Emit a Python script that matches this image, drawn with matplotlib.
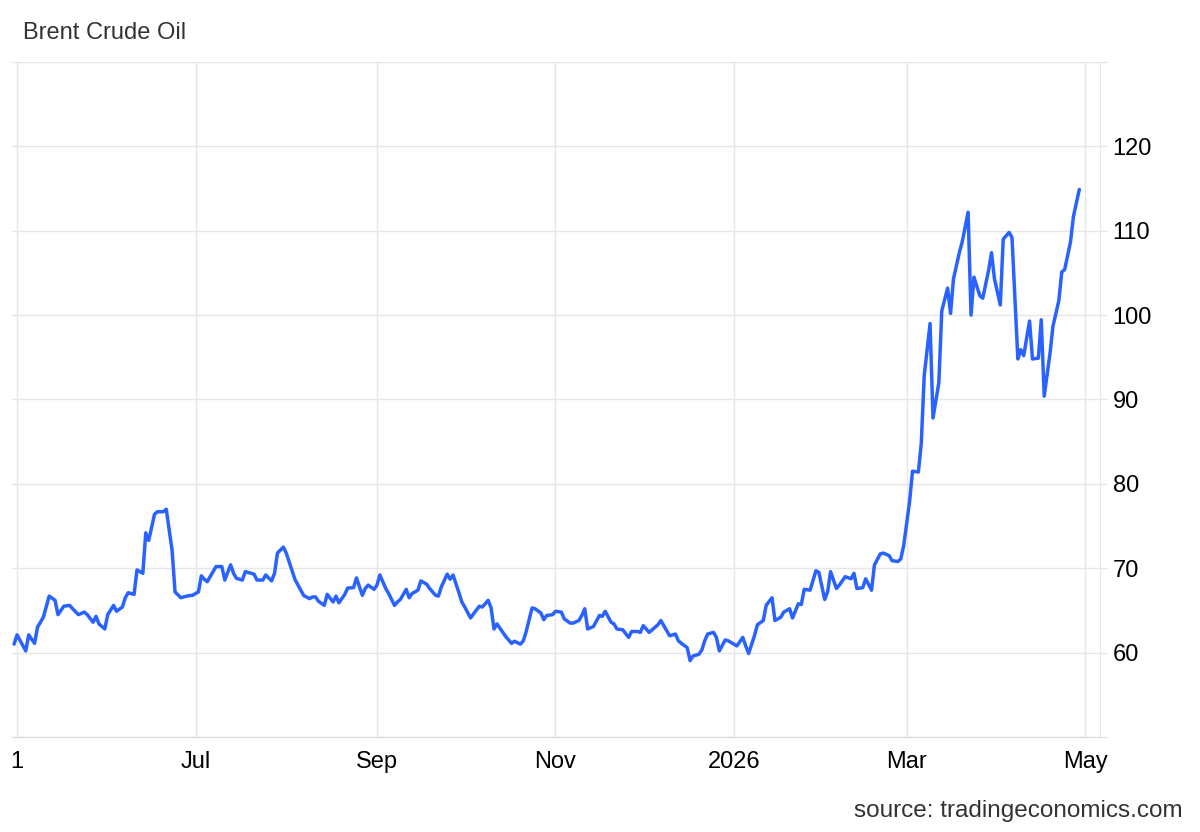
import pandas as pd
import matplotlib
matplotlib.use("Agg")
import matplotlib.pyplot as plt

title = "Brent Crude Oil"
source = "source: tradingeconomics.com"

# daily closes, one line per month
dates = [
    "2025-04-30", "2025-05-01", "2025-05-04", "2025-05-05", "2025-05-07", "2025-05-08", "2025-05-10", "2025-05-12", "2025-05-14", "2025-05-15",
    "2025-05-17", "2025-05-19", "2025-05-20", "2025-05-22", "2025-05-24", "2025-05-25", "2025-05-27", "2025-05-28", "2025-05-29", "2025-05-31",
    "2025-06-01", "2025-06-03", "2025-06-04", "2025-06-06", "2025-06-07", "2025-06-08", "2025-06-10", "2025-06-11", "2025-06-13", "2025-06-14",
    "2025-06-15", "2025-06-17", "2025-06-18", "2025-06-20", "2025-06-21", "2025-06-23", "2025-06-24", "2025-06-26", "2025-06-28", "2025-06-29", "2025-06-30",
    "2025-07-02", "2025-07-03", "2025-07-04", "2025-07-05", "2025-07-07", "2025-07-08", "2025-07-10", "2025-07-11", "2025-07-13", "2025-07-14", "2025-07-15",
    "2025-07-17", "2025-07-18", "2025-07-20", "2025-07-21", "2025-07-22", "2025-07-24", "2025-07-25", "2025-07-27", "2025-07-28", "2025-07-29", "2025-07-31",
    "2025-08-01", "2025-08-03", "2025-08-04", "2025-08-06", "2025-08-07", "2025-08-09", "2025-08-10", "2025-08-11", "2025-08-12", "2025-08-14", "2025-08-15",
    "2025-08-17", "2025-08-18", "2025-08-19", "2025-08-21", "2025-08-22", "2025-08-24", "2025-08-25", "2025-08-27", "2025-08-28", "2025-08-29", "2025-08-31",
    "2025-09-01", "2025-09-02", "2025-09-04", "2025-09-05", "2025-09-07", "2025-09-08", "2025-09-09", "2025-09-11", "2025-09-12", "2025-09-13", "2025-09-15",
    "2025-09-16", "2025-09-18", "2025-09-19", "2025-09-21", "2025-09-22", "2025-09-23", "2025-09-25", "2025-09-26", "2025-09-27", "2025-09-29", "2025-09-30",
    "2025-10-01", "2025-10-03", "2025-10-04", "2025-10-06", "2025-10-07", "2025-10-09", "2025-10-10", "2025-10-11", "2025-10-12", "2025-10-14", "2025-10-15",
    "2025-10-17", "2025-10-18", "2025-10-20", "2025-10-21", "2025-10-22", "2025-10-24", "2025-10-25", "2025-10-27", "2025-10-28", "2025-10-29", "2025-10-31",
    "2025-11-01", "2025-11-03", "2025-11-04", "2025-11-06", "2025-11-07", "2025-11-09", "2025-11-10", "2025-11-11", "2025-11-12", "2025-11-14", "2025-11-16",
    "2025-11-17", "2025-11-18", "2025-11-20", "2025-11-21", "2025-11-22", "2025-11-24", "2025-11-26", "2025-11-27", "2025-11-29", "2025-11-30",
    "2025-12-01", "2025-12-03", "2025-12-04", "2025-12-06", "2025-12-07", "2025-12-09", "2025-12-10", "2025-12-12", "2025-12-13", "2025-12-14", "2025-12-16",
    "2025-12-17", "2025-12-18", "2025-12-20", "2025-12-21", "2025-12-22", "2025-12-23", "2025-12-25", "2025-12-26", "2025-12-27", "2025-12-29", "2025-12-30",
    "2026-01-01", "2026-01-02", "2026-01-04", "2026-01-05", "2026-01-06", "2026-01-08", "2026-01-09", "2026-01-11", "2026-01-12", "2026-01-14", "2026-01-15",
    "2026-01-17", "2026-01-18", "2026-01-20", "2026-01-21", "2026-01-23", "2026-01-24", "2026-01-25", "2026-01-27", "2026-01-29", "2026-01-30",
    "2026-02-01", "2026-02-02", "2026-02-03", "2026-02-05", "2026-02-06", "2026-02-08", "2026-02-10", "2026-02-11", "2026-02-12", "2026-02-14",
    "2026-02-15", "2026-02-17", "2026-02-18", "2026-02-20", "2026-02-21", "2026-02-23", "2026-02-24", "2026-02-26", "2026-02-27", "2026-02-28",
    "2026-03-02", "2026-03-03", "2026-03-05", "2026-03-06", "2026-03-07", "2026-03-09", "2026-03-10", "2026-03-12", "2026-03-13", "2026-03-15", "2026-03-16",
    "2026-03-17", "2026-03-19", "2026-03-20", "2026-03-22", "2026-03-23", "2026-03-24", "2026-03-26", "2026-03-27", "2026-03-29", "2026-03-30", "2026-03-31",
    "2026-04-02", "2026-04-03", "2026-04-05", "2026-04-06", "2026-04-08", "2026-04-09", "2026-04-10", "2026-04-12", "2026-04-13", "2026-04-15",
    "2026-04-16", "2026-04-17", "2026-04-19", "2026-04-20", "2026-04-22", "2026-04-23", "2026-04-24", "2026-04-26", "2026-04-27", "2026-04-29",
]
prices = [
    61.0, 62.1, 60.2, 62.1, 61.1, 63.0, 64.2, 66.7, 66.2, 64.5,
    65.5, 65.6, 65.2, 64.5, 64.8, 64.5, 63.6, 64.3, 63.4, 62.8,
    64.5, 65.6, 64.9, 65.4, 66.5, 67.1, 66.9, 69.8, 69.4, 74.2,
    73.3, 76.4, 76.7, 76.7, 77.0, 72.1, 67.2, 66.5, 66.7, 66.75, 66.8,
    67.2, 69.1, 68.7, 68.4, 69.6, 70.2, 70.2, 68.6, 70.4, 69.4, 68.8,
    68.6, 69.6, 69.4, 69.3, 68.6, 68.6, 69.2, 68.5, 69.4, 71.8, 72.5,
    71.8, 69.7, 68.65, 67.4, 66.75, 66.4, 66.6, 66.6, 66.1, 65.6, 66.9,
    66.0, 66.7, 65.9, 66.9, 67.65, 67.7, 68.85, 66.8, 67.6, 68.0, 67.5,
    68.0, 69.2, 67.6, 67.0, 65.6, 66.0, 66.3, 67.5, 66.5, 67.0, 67.4,
    68.5, 68.1, 67.6, 66.8, 66.7, 67.8, 69.3, 68.7, 69.2, 67.1, 66.0,
    65.4, 64.1, 64.6, 65.5, 65.4, 66.2, 65.3, 62.8, 63.4, 62.4, 61.9,
    61.1, 61.35, 61.0, 61.4, 62.5, 65.3, 65.2, 64.7, 63.9, 64.4, 64.5,
    64.9, 64.8, 64.0, 63.5, 63.5, 63.8, 64.4, 65.2, 62.8, 63.1, 64.4,
    64.3, 64.9, 63.6, 63.4, 62.8, 62.7, 61.8, 62.5, 62.5, 62.4,
    63.2, 62.4, 62.7, 63.3, 63.8, 62.6, 62.0, 62.2, 61.4, 61.1, 60.6,
    59.05, 59.6, 59.8, 60.3, 61.4, 62.2, 62.4, 61.8, 60.2, 61.5, 61.4,
    61.0, 60.8, 61.8, 60.8, 59.9, 62.0, 63.3, 63.8, 65.6, 66.5, 63.8,
    64.2, 64.8, 65.2, 64.1, 65.8, 65.7, 67.5, 67.4, 69.7, 69.5,
    66.3, 67.2, 69.6, 67.6, 68.0, 69.0, 68.75, 69.4, 67.6, 67.7,
    68.75, 67.4, 70.4, 71.7, 71.8, 71.5, 70.9, 70.8, 71.1, 72.7,
    77.9, 81.5, 81.4, 84.8, 92.8, 99.0, 87.8, 92.0, 100.5, 103.2, 100.2,
    104.3, 107.4, 108.7, 112.2, 100.0, 104.5, 102.3, 102.0, 105.3, 107.4, 104.3,
    101.2, 109.0, 109.8, 109.2, 94.8, 95.9, 95.2, 99.3, 94.8, 94.9,
    99.45, 90.4, 95.5, 98.7, 101.7, 105.1, 105.4, 108.7, 111.7, 114.9,
]
assert len(dates) == len(prices)

tick_dates = ["2025-05-01", "2025-07-01", "2025-09-01", "2025-11-01",
              "2026-01-01", "2026-03-01", "2026-05-01"]
tick_labels = ["1", "Jul", "Sep", "Nov", "2026", "Mar", "May"]
y_ticks = [50, 60, 70, 80, 90, 100, 110, 120, 130]
y_labels = ["", "60", "70", "80", "90", "100", "110", "120", ""]

plt.rcParams["font.family"] = ["Liberation Sans", "DejaVu Sans"]

grid_col = "#e6e6e6"
fig = plt.figure(figsize=(12, 8.32), dpi=100)
ax = fig.add_axes([0.01, 0.1142, 0.9067, 0.8113])

ax.plot(pd.to_datetime(dates), prices, color="#2962ff", lw=2.5,
        solid_joinstyle="round", solid_capstyle="round", zorder=3)

ax.set_ylim(50, 130)
ax.set_xlim(pd.Timestamp("2025-04-29 07:00"), pd.Timestamp("2026-05-06 02:00"))

ax.set_xticks(pd.to_datetime(tick_dates))
ax.set_xticklabels(tick_labels)
ax.set_yticks(y_ticks)
ax.set_yticklabels(y_labels)
ax.yaxis.tick_right()

ax.grid(True, color=grid_col, lw=1)
ax.tick_params(axis="x", length=0, labelsize=17, pad=10, labelcolor="black")
ax.tick_params(axis="y", length=5, width=1, color=grid_col, labelsize=17,
               pad=4, labelcolor="black")

ax.spines["top"].set_visible(False)
ax.spines["left"].set_visible(False)
ax.spines["bottom"].set_color("#d9d9d9")
ax.spines["right"].set_color(grid_col)

fig.text(23 / 1200, 1 - 39 / 832, title, fontsize=17, color="#333333",
         va="baseline", ha="left")
fig.text(1183 / 1200, 1 - 817 / 832, source, fontsize=17.5, color="#333333",
         va="baseline", ha="right")

fig.savefig("out.png", dpi=100)
